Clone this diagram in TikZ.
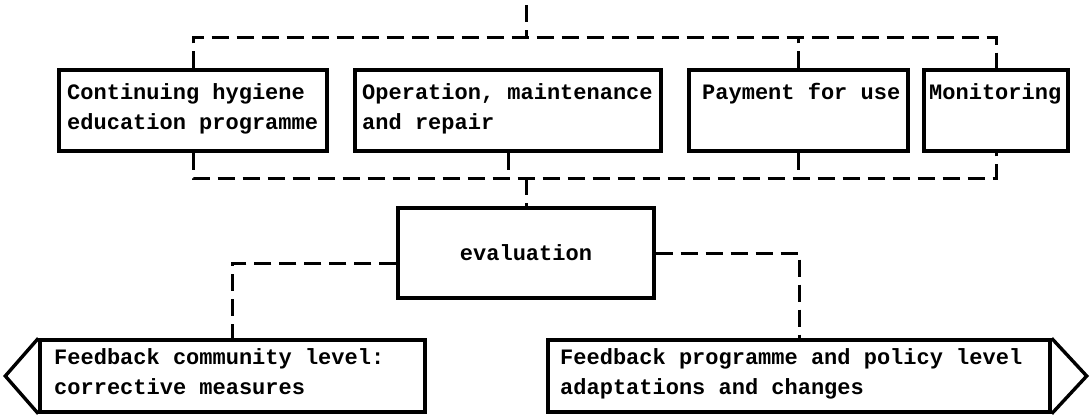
\documentclass[tikz,border=0pt]{standalone}
\usepackage{fontspec}
\setmonofont{Liberation Mono}
\begin{document}
\begin{tikzpicture}[x=1pt,y=-1pt,
  box/.style={draw, line width=3.4pt, inner sep=0pt, rectangle},
  conn/.style={draw, line width=3pt, dash pattern=on 17pt off 8pt},
  tip/.style={draw, line width=3.4pt, line join=miter},
  txt/.style={inner sep=0pt, font=\ttfamily\bfseries\fontsize{22}{30}\selectfont}]
\useasboundingbox (0,0) rectangle (1092,416);
% boxes
\node[box, minimum width=268pt, minimum height=81pt] (b1) at (193,110.5) {};
\node[box, minimum width=306pt, minimum height=81pt] (b2) at (508,110.5) {};
\node[box, minimum width=219pt, minimum height=81pt] (b3) at (798.5,110.5) {};
\node[box, minimum width=144pt, minimum height=81pt] (b4) at (996,110.5) {};
\node[box, minimum width=256pt, minimum height=90pt] (ev) at (526,253) {};
\node[box, minimum width=385pt, minimum height=72pt] (fl) at (232.5,376) {};
\node[box, minimum width=502pt, minimum height=72pt] (fr) at (799,376) {};
% arrow heads of feedback boxes
\draw[tip] (fl.north west) -- ([xshift=-33pt]fl.west) -- (fl.south west);
\draw[tip] (fr.north east) -- ([xshift=35pt]fr.east) -- (fr.south east);
% texts
\node[txt, anchor=base west] (t1) at (67,99) {\vtop{\hbox{Continuing hygiene}\hbox{education programme}}};
\node[txt, anchor=base west] (t2) at (362,99) {\vtop{\hbox{Operation, maintenance}\hbox{and repair}}};
\node[txt, anchor=base west] (t3) at (702,99) {Payment for use};
\node[txt, anchor=base west] (t4) at (929,99) {Monitoring};
\node[txt, anchor=base] (tev) at (526,260) {evaluation};
\node[txt, anchor=base west] (tl) at (54,364) {\vtop{\hbox{Feedback community level:}\hbox{corrective measures}}};
\node[txt, anchor=base west] (tr) at (560,364) {\vtop{\hbox{Feedback programme and policy level}\hbox{adaptations and changes}}};
% connectors
\coordinate (topin) at (526,5);
\coordinate (tj) at (526,37);
\coordinate (bj) at (526,178);
\draw[conn] (topin) -- (tj);
\draw[conn] (b1.north) |- (tj) -- (tj -| b4.north) -- (b4.north);
\draw[conn] (b3.north) -- (b3.north |- tj);
\draw[conn] (b1.south) |- (bj) -- (bj -| b4.south) -- (b4.south);
\draw[conn] (b2.south) -- (b2.south |- bj);
\draw[conn] (b3.south) -- (b3.south |- bj);
\draw[conn] (bj) -- (ev.north);
\draw[conn] ([yshift=-10pt]ev.west) -| (fl.north);
\draw[conn] (ev.east) -| (fr.north);
\end{tikzpicture}
\end{document}
